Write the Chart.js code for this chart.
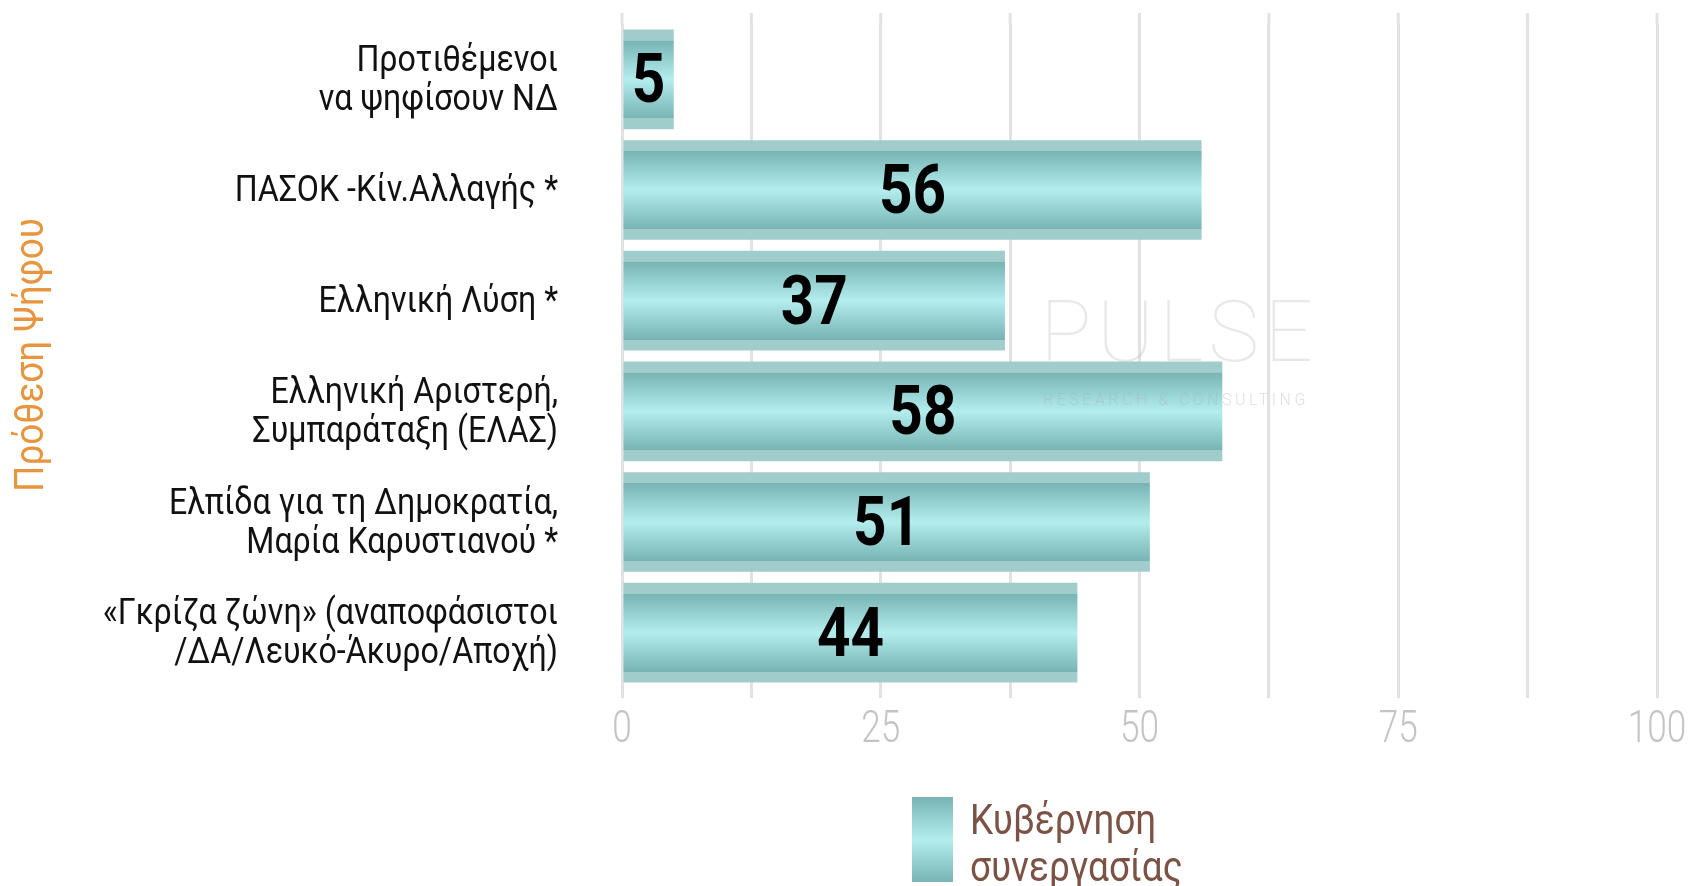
<!DOCTYPE html>
<html>
<head>
<meta charset="utf-8">
<script src="https://cdn.jsdelivr.net/npm/chart.js@4"></script>
<style>
  html, body { margin: 0; padding: 0; background: #fff; }
  #wrap { width: 1690px; height: 886px; position: relative; }
</style>
</head>
<body>
<div id="wrap"><canvas id="myChart"></canvas></div>
<script>
// data
const categories = [
  ['Προτιθέμενοι', 'να ψηφίσουν ΝΔ'],
  ['ΠΑΣΟΚ -Κίν.Αλλαγής *'],
  ['Ελληνική Λύση *'],
  ['Ελληνική Αριστερή,', 'Συμπαράταξη (ΕΛΑΣ)'],
  ['Ελπίδα για τη Δημοκρατία,', 'Μαρία Καρυστιανού *'],
  ['«Γκρίζα ζώνη» (αναποφάσιστοι', '/ΔΑ/Λευκό-Άκυρο/Αποχή)']
]
const values = [5, 56, 37, 58, 51, 44]
const seriesName = ['Κυβέρνηση', 'συνεργασίας']
const axisTitle = 'Πρόθεση Ψήφου'
const xTickLabels = [0, 25, 50, 75, 100]

const FONT = 'Roboto, "Noto Sans", sans-serif'

// draws text squeezed horizontally (the original uses a condensed face)
function squeezed(ctx, text, x, y, sx) {
  ctx.save()
  ctx.translate(x, y)
  ctx.scale(sx, 1)
  ctx.fillText(text, 0, 0)
  ctx.restore()
}

function tealGradient(ctx, top, bottom, edges) {
  const g = ctx.createLinearGradient(0, top, 0, bottom)
  if (edges) {
    g.addColorStop(0, '#a0cdcc')
    g.addColorStop(0.11, '#a0cdcc')
    g.addColorStop(0.111, '#78b4b4')
    g.addColorStop(0.5, '#b3eded')
    g.addColorStop(0.89, '#78b4b4')
    g.addColorStop(0.891, '#a0cdcc')
    g.addColorStop(1, '#a0cdcc')
  } else {
    g.addColorStop(0, '#78b4b4')
    g.addColorStop(0.5, '#b3eded')
    g.addColorStop(1, '#78b4b4')
  }
  return g
}

const barFill = (c) => {
  const chart = c.chart
  const y = chart.scales.y
  if (c.dataIndex === undefined || !y || !chart.chartArea) return '#8fc9c9'
  const center = y.getPixelForValue(c.dataIndex)
  const half = (y.getPixelForValue(1) - y.getPixelForValue(0)) * 0.9 / 2
  return tealGradient(chart.ctx, center - half, center + half, true)
}

const extras = {
  id: 'extras',
  beforeDatasetsDraw(chart) {
    // grid lines run a little above the plot area
    const { ctx, chartArea, scales: { x } } = chart
    ctx.save()
    ctx.strokeStyle = '#e2e2e2'
    ctx.lineWidth = 3
    x.ticks.forEach(t => {
      const px = x.getPixelForValue(t.value)
      ctx.beginPath()
      ctx.moveTo(px, 13)
      ctx.lineTo(px, chartArea.top)
      ctx.stroke()
    })
    ctx.restore()
  },
  afterDatasetsDraw(chart) {
    const { ctx, scales: { x, y } } = chart
    ctx.save()

    // watermark
    ctx.fillStyle = 'rgba(190,190,190,0.35)'
    ctx.textAlign = 'left'
    ctx.textBaseline = 'alphabetic'
    ctx.font = '100 86px ' + FONT
    ctx.letterSpacing = '5px'
    ctx.fillText('PULSE', 1040, 361)
    ctx.fillStyle = 'rgba(175,175,175,0.4)'
    ctx.font = '300 16px ' + FONT
    ctx.letterSpacing = '3.5px'
    ctx.fillText('RESEARCH & CONSULTING', 1043, 405)
    ctx.letterSpacing = '0px'

    // value labels
    ctx.fillStyle = '#000'
    ctx.textAlign = 'center'
    ctx.textBaseline = 'middle'
    ctx.font = 'bold 68px ' + FONT
    chart.getDatasetMeta(0).data.forEach((bar, i) => {
      squeezed(ctx, String(values[i]), (bar.x + bar.base) / 2, bar.y + 6, 0.86)
    })

    // x tick labels
    ctx.fillStyle = '#c4c4c4'
    ctx.font = '300 44px ' + FONT
    xTickLabels.forEach(v => {
      squeezed(ctx, String(v), x.getPixelForValue(v), 731, 0.8)
    })

    // category labels
    ctx.fillStyle = '#111'
    ctx.textAlign = 'right'
    ctx.font = '37px ' + FONT
    categories.forEach((lines, i) => {
      const cy = y.getPixelForValue(i) + 2
      const lh = 39
      lines.forEach((ln, k) => {
        squeezed(ctx, ln, 558, cy + (k - (lines.length - 1) / 2) * lh, 0.87)
      })
    })

    // axis title
    ctx.fillStyle = '#e8953f'
    ctx.textAlign = 'center'
    ctx.font = '41px ' + FONT
    ctx.save()
    ctx.translate(33, 355)
    ctx.rotate(-Math.PI / 2)
    squeezed(ctx, axisTitle, 0, 0, 0.9)
    ctx.restore()

    // legend
    ctx.fillStyle = tealGradient(ctx, 797, 882, false)
    ctx.fillRect(912, 797, 41, 85)
    ctx.fillStyle = '#7b5244'
    ctx.textAlign = 'left'
    ctx.textBaseline = 'alphabetic'
    ctx.font = '42px ' + FONT
    squeezed(ctx, seriesName[0], 970, 834, 0.88)
    squeezed(ctx, seriesName[1], 970, 881, 0.88)
    ctx.restore()
  }
}

const ctx = document.getElementById('myChart')

new Chart(ctx, {
  type: 'bar',
  data: {
    labels: categories,
    datasets: [{
      label: seriesName.join(' '),
      data: values,
      backgroundColor: barFill,
      borderWidth: 0,
      categoryPercentage: 0.9,
      barPercentage: 1
    }]
  },
  options: {
    indexAxis: 'y',
    responsive: true,
    maintainAspectRatio: false,
    animation: false,
    layout: { padding: { top: 24, right: 33, left: 0, bottom: 0 } },
    plugins: {
      legend: { display: false },
      tooltip: { enabled: false }
    },
    scales: {
      x: {
        min: 0,
        max: 100,
        afterFit: s => { s.height = 198; s.paddingLeft = 0; s.paddingRight = 0 },
        ticks: {
          stepSize: 12.5,
          autoSkip: false,
          maxRotation: 0,
          display: false
        },
        grid: { color: '#e2e2e2', lineWidth: 3, tickLength: 10 },
        border: { display: false }
      },
      y: {
        afterFit: s => { s.width = 622 },
        ticks: { display: false },
        grid: { display: false },
        border: { display: false }
      }
    }
  },
  plugins: [extras]
})
</script>
</body>
</html>
